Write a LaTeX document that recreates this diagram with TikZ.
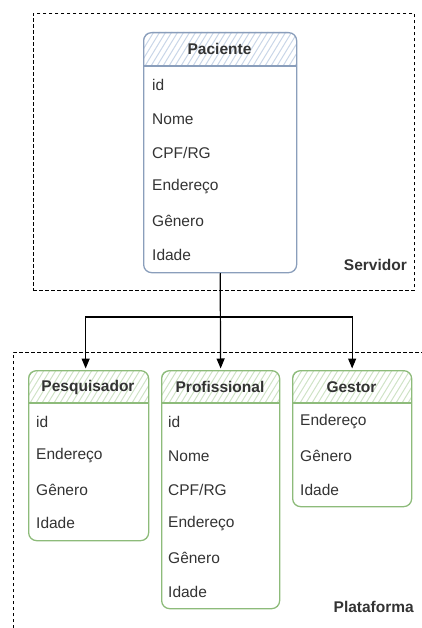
\documentclass[tikz,border=0pt]{standalone}
\usepackage{fontspec}
\setmainfont{Liberation Sans}
\usetikzlibrary{arrows.meta}

\definecolor{bluestroke}{HTML}{8A9EBB}
\definecolor{bluehatch}{HTML}{C9D6E8}
\definecolor{greenstroke}{HTML}{8DBB7A}
\definecolor{greenhatch}{HTML}{CFE3C6}
\definecolor{ink}{HTML}{333333}

\tikzset{
  tablebox/.style={draw, line width=1.3pt, rounded corners=8pt, anchor=north west, inner sep=0pt},
  field/.style={anchor=west, inner sep=0pt, text=ink, font=\fontsize{15.5}{18}\selectfont},
  title/.style={inner sep=0pt, text=ink, font=\fontsize{15.5}{18}\selectfont\bfseries},
  area/.style={draw, dash pattern=on 3.5pt off 2.5pt, line width=0.9pt},
  link/.style={line width=1.2pt, shorten >=1.5pt, -{Triangle[length=10pt,width=8pt]}},
}

% hatched header band of an entity table: x1, y1, x2, y of the divider, colour
\newcommand\hatchhead[5]{%
  \begin{scope}
    \clip[rounded corners=8pt] (#1,#2) rectangle (#3,#4+12);
    \clip (#1,#2) rectangle (#3,#4);
    \foreach \k in {-40,-34,...,200}
      \draw[#5, line width=1pt] (#1+\k,#4) -- ++(22,-36);
  \end{scope}
}

\begin{document}
\begin{tikzpicture}[x=1pt,y=-1pt]
\useasboundingbox (0,0) rectangle (422,628);

% server area
\node[area, anchor=north west, minimum width=381pt, minimum height=277pt, inner sep=0pt] (srv) at (33,13) {};
\node[title, anchor=east] (srvlbl) at (407,265) {Servidor};

% platform area (continues past the page edges)
\coordinate (platbl) at (13,640);
\coordinate (plattl) at (13,352);
\coordinate (plattr) at (430,352);
\draw[dash pattern=on 3.5pt off 2.5pt, line width=0.9pt] (platbl) -- (plattl) -- (plattr);
\node[title, anchor=east] (platlbl) at (414,607) {Plataforma};

% Paciente
\hatchhead{143}{32}{296}{66}{bluehatch}
\node[tablebox, draw=bluestroke, minimum width=153pt, minimum height=240pt] (pac) at (143,32) {};
\draw[bluestroke, line width=1.3pt] (pac.west |- 0,66) -- (pac.east |- 0,66);
\node[title] (pac-t) at (219.5,49) {Paciente};
\node[field] (pac-1) at (152,85) {id};
\node[field] (pac-2) at (152,119) {Nome};
\node[field] (pac-3) at (152,153) {CPF/RG};
\node[field] (pac-4) at (152,187) {Endereço};
\node[field] (pac-5) at (152,221) {Gênero};
\node[field] (pac-6) at (152,255) {Idade};

% Pesquisador
\hatchhead{28}{370}{148}{403}{greenhatch}
\node[tablebox, draw=greenstroke, minimum width=120pt, minimum height=170pt] (pes) at (28,370) {};
\draw[greenstroke, line width=1.3pt] (pes.west |- 0,403) -- (pes.east |- 0,403);
\node[title] (pes-t) at (88,387) {Pesquisador};
\node[field] (pes-1) at (36,422) {id};
\node[field] (pes-2) at (36,456) {Endereço};
\node[field] (pes-3) at (36,490) {Gênero};
\node[field] (pes-4) at (36,523) {Idade};

% Profissional
\hatchhead{161}{370}{279}{403}{greenhatch}
\node[tablebox, draw=greenstroke, minimum width=118pt, minimum height=238pt] (pro) at (161,370) {};
\draw[greenstroke, line width=1.3pt] (pro.west |- 0,403) -- (pro.east |- 0,403);
\node[title] (pro-t) at (220,387) {Profissional};
\node[field] (pro-1) at (168,422) {id};
\node[field] (pro-2) at (168,456) {Nome};
\node[field] (pro-3) at (168,490) {CPF/RG};
\node[field] (pro-4) at (168,524) {Endereço};
\node[field] (pro-5) at (168,558) {Gênero};
\node[field] (pro-6) at (168,592) {Idade};

% Gestor
\hatchhead{292}{370}{411}{403}{greenhatch}
\node[tablebox, draw=greenstroke, minimum width=119pt, minimum height=136pt] (ges) at (292,370) {};
\draw[greenstroke, line width=1.3pt] (ges.west |- 0,403) -- (ges.east |- 0,403);
\node[title] (ges-t) at (351.5,387) {Gestor};
\node[field] (ges-1) at (300,422) {Endereço};
\node[field] (ges-2) at (300,456) {Gênero};
\node[field] (ges-3) at (300,490) {Idade};

% connectors
\coordinate (bus) at (0,317);
\draw[link] (pac.south) -- (pac.south |- bus) -| ([xshift=-3pt]pes.north);
\draw[link] (pac.south) -- (pro.north);
\draw[link] (pac.south) -- (pac.south |- bus) -| (ges.north);
\end{tikzpicture}
\end{document}
